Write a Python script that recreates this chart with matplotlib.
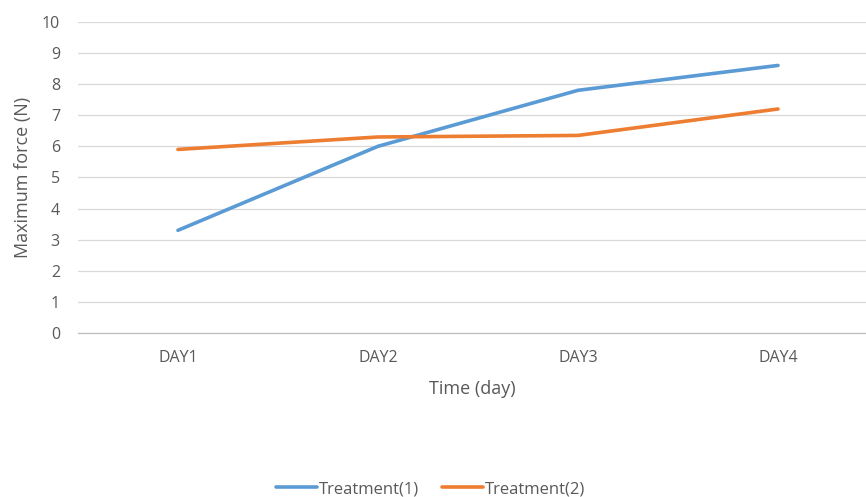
import matplotlib
matplotlib.use("Agg")
import matplotlib.pyplot as plt

days = ["DAY1", "DAY2", "DAY3", "DAY4"]
treatment1 = [3.3, 6.0, 7.8, 8.6]
treatment2 = [5.9, 6.3, 6.35, 7.2]
yticks = list(range(0, 11))

plt.rcParams['font.family'] = ['Open Sans', 'DejaVu Sans']
txt = '#595959'

fig = plt.figure(figsize=(8.66, 4.97), dpi=100)
ax = fig.add_axes([0.090, 0.330, 0.910, 0.626])
x = list(range(len(days)))
ax.plot(x, treatment1, color='#5B9BD5', lw=2.6, label='Treatment(1)', solid_capstyle='round')
ax.plot(x, treatment2, color='#ED7D31', lw=2.6, label='Treatment(2)', solid_capstyle='round')

ax.set_xlim(-0.5, 3.44)
ax.set_ylim(0, 10)
ax.set_yticks(yticks)
ax.set_xticks(x)
ax.set_xticklabels(days)
ax.grid(axis='y', color='#D9D9D9', lw=0.9)
ax.set_axisbelow(True)
for s in ['top', 'right', 'left']:
    ax.spines[s].set_visible(False)
ax.spines['bottom'].set_color('#BFBFBF')
ax.spines['bottom'].set_linewidth(0.9)
ax.tick_params(axis='both', length=0, labelsize=11.5, colors=txt)
ax.tick_params(axis='x', pad=12.5)
ax.tick_params(axis='y', pad=13)
ax.set_xlabel('Time (day)', fontsize=13, color=txt, labelpad=10)
ax.set_ylabel('Maximum force (N)', fontsize=13, color=txt, labelpad=7)

fig.legend(loc='center', bbox_to_anchor=(0.497, 0.016), ncol=2, frameon=False,
           fontsize=12, labelcolor=txt, handlelength=2.5, handletextpad=0.1, columnspacing=1.35)

fig.savefig('out.png', dpi=100)
